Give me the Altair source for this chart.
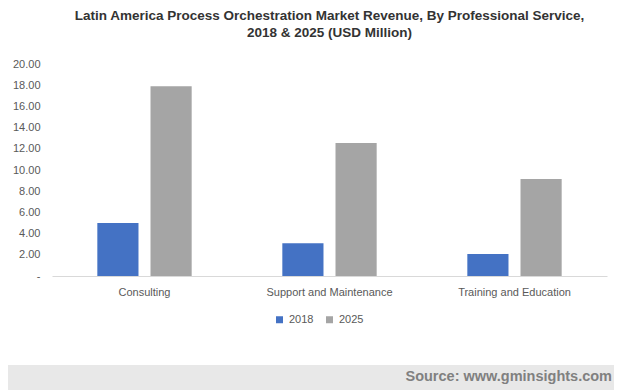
import altair as alt
import pandas as pd

categories = ["Consulting", "Support and Maintenance", "Training and Education"]
years = ["2018", "2025"]
values_2018 = [5.0, 3.1, 2.07]
values_2025 = [17.9, 12.55, 9.15]
title_lines = ["Latin America Process Orchestration Market Revenue, By Professional Service,",
               "2018 & 2025 (USD Million)"]
source_text = ["Source: www.gminsights.com"]

rows = []
for c, v1, v2 in zip(categories, values_2018, values_2025):
    rows.append({"category": c, "year": years[0], "value": v1})
    rows.append({"category": c, "year": years[1], "value": v2})
df = pd.DataFrame(rows)
src = pd.DataFrame({"text": source_text})

FONT = "Liberation Sans"
W, H = 555, 212

bars = alt.Chart(df).mark_bar().encode(
    x=alt.X("category:N", sort=categories, title=None,
            scale=alt.Scale(paddingInner=0.49, paddingOuter=0.245),
            axis=alt.Axis(labelAngle=0, ticks=False, domainColor="#d9d9d9",
                          labelColor="#595959", labelFontSize=11, labelFont=FONT,
                          labelPadding=10)),
    xOffset=alt.XOffset("year:N", sort=years,
                        scale=alt.Scale(paddingInner=0.226, paddingOuter=0)),
    y=alt.Y("value:Q", title=None,
            scale=alt.Scale(domain=[0, 20]),
            axis=alt.Axis(values=list(range(0, 21, 2)), grid=False, domain=False,
                          ticks=False, labelPadding=12,
                          labelExpr="datum.value == 0 ? '-' : format(datum.value, '.2f')",
                          labelColor="#595959", labelFontSize=11, labelFont=FONT)),
    color=alt.Color("year:N", sort=years, title=None,
                    scale=alt.Scale(domain=years, range=["#4472c4", "#a5a5a5"]),
                    legend=alt.Legend(orient="none", direction="horizontal",
                                      legendX=222, legendY=250,
                                      symbolType="square", symbolSize=49,
                                      symbolStrokeWidth=0,
                                      labelFontSize=11, labelFont=FONT,
                                      labelColor="#595959", columnPadding=10,
                                      padding=0)),
)

# footer band (decoration) and source note
band = alt.Chart(src).mark_rect(color="#e8e8e8").encode(
    x=alt.value(-44), x2=alt.value(W + 7),
    y=alt.value(H + 89), y2=alt.value(H + 115),
)
note = alt.Chart(src).mark_text(
    align="right", baseline="middle", font=FONT, fontSize=14.5,
    fontWeight="bold", color="#808080"
).encode(
    text="text:N",
    x=alt.value(W + 5),
    y=alt.value(H + 101),
)

chart = alt.layer(bars, band, note).properties(
    width=W, height=H,
    background="white",
    title=alt.Title(title_lines, font=FONT, fontSize=13.5, fontWeight="bold",
                    color="#333333", lineHeight=17, anchor="middle", offset=19),
    padding={"left": 0, "top": 0, "right": 0, "bottom": 0},
).configure_view(strokeWidth=0)

chart.save("out.html", embed_options={"renderer": "svg", "actions": False})
